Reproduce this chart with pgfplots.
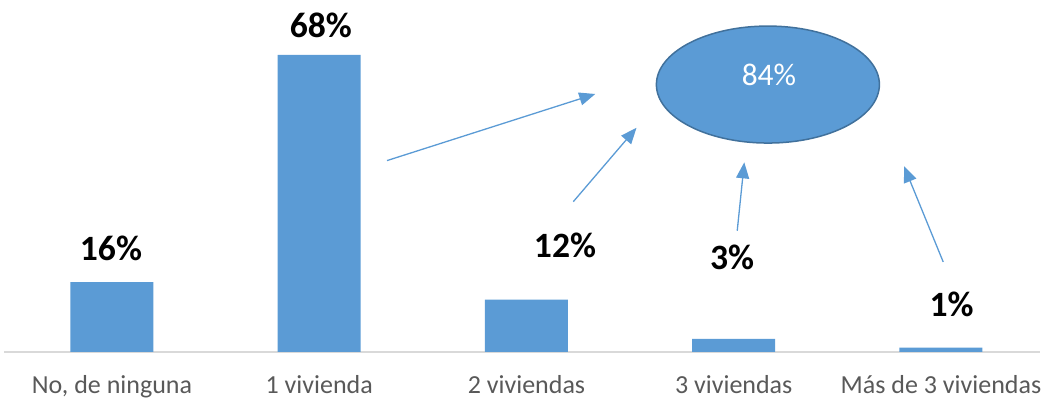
\documentclass[border=0pt]{standalone}
\usepackage{fontspec}
\setmainfont{Carlito}
\usepackage{pgfplots}
\pgfplotsset{compat=1.18}
\usetikzlibrary{arrows.meta}
\definecolor{barblue}{HTML}{5B9BD5}
\definecolor{edgeblue}{HTML}{41719C}
\definecolor{axisgray}{HTML}{D9D9D9}
\definecolor{ticktext}{HTML}{595959}
\begin{document}
\begin{tikzpicture}[x=1pt,y=1pt]
\useasboundingbox (-4.2,-49) rectangle (1042.8,352);
\begin{axis}[
  at={(0,0)}, anchor=south west,
  scale only axis, width=1036.25pt, height=349.6pt,
  xmin=-0.52, xmax=4.48, ymin=0, ymax=80,
  axis x line*=bottom, axis y line=none,
  x axis line style={axisgray, line width=1.5pt, -},
  ybar, bar width=83pt, bar shift=0pt,
  xtick={0,1,2,3,4},
  xticklabels={{No, de ninguna},{1 vivienda},{2 viviendas},{3 viviendas},{Más de 3 viviendas}},
  xtick style={draw=none}, major tick length=0pt,
  xticklabel style={font=\fontsize{26}{30}\selectfont, text=ticktext, yshift=-20pt},
  clip=false,
]
\addplot[fill=barblue, draw=none] coordinates {(0,16) (1,68) (2,12) (3,3) (4,1)};

\tikzset{lbl/.style={font=\fontsize{35.6}{40}\selectfont\bfseries, text=black, anchor=center}}
\node[lbl] at (axis cs:-0.005,23.6) {16\%};
\node[lbl] at (axis cs:1.008,74.8) {68\%};
\node[lbl] at (axis cs:2.186,24.5) {12\%};
\node[lbl] at (axis cs:2.992,21.7) {3\%};
\node[lbl] at (axis cs:4.051,11.0) {1\%};

\draw[edgeblue, fill=barblue, line width=1.5pt] (axis cs:3.165,61.2) ellipse [x radius=111.5pt, y radius=58.5pt];
\node[text=white, font=\fontsize{31.4}{36}\selectfont] at (axis cs:3.170,63.5) {84\%};

\tikzset{arr/.style={barblue, line width=1.3pt, -{Triangle[length=16pt,width=13pt]}}}
\draw[arr] (axis cs:1.327,43.8) -- (axis cs:2.332,59.04);
\draw[arr] (axis cs:2.226,34.4) -- (axis cs:2.531,51.3);
\draw[arr] (axis cs:3.017,27.75) -- (axis cs:3.051,43.4);
\draw[arr] (axis cs:4.011,20.6) -- (axis cs:3.822,42.5);
\end{axis}
\end{tikzpicture}
\end{document}
